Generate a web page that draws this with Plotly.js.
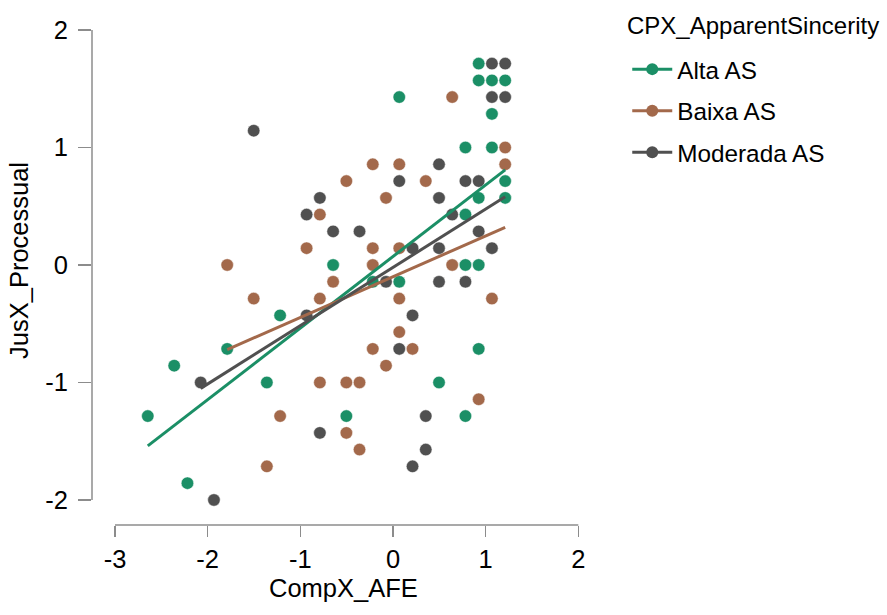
<!DOCTYPE html>
<html>
<head>
<meta charset="utf-8">
<script src="https://cdn.plot.ly/plotly-3.0.1.min.js"></script>
<style>html,body{margin:0;padding:0;background:#fff;}#chart{width:887px;height:615px;}</style>
</head>
<body>
<div id="chart"></div>
<script>
// Group names and colours
var groups = ["Alta AS", "Baixa AS", "Moderada AS"];
var colors = ["#1b8f66", "#a3694b", "#505050"];

// Alta AS points
var altaX = [0.925, 0.925, 1.068, 1.211, 0.068, 1.068, 0.782, 1.068, 1.211, 0.925, 1.211, 0.782, -0.646, 0.782, 0.925, -0.218, 0.068, 0.925, -1.218, -1.789, -2.361, -1.361, 0.497, -2.646, -0.503, 0.782, -2.218];
var altaY = [1.714, 1.571, 1.571, 1.571, 1.429, 1.286, 1.0, 1.0, 0.714, 0.571, 0.571, 0.429, 0, 0, 0, -0.143, -0.143, -0.714, -0.429, -0.714, -0.857, -1.0, -1.0, -1.286, -1.286, -1.286, -1.857];

// Baixa AS points
var baixaX = [0.639, 1.211, -0.218, 0.068, 1.211, -0.503, 0.354, -0.075, -0.789, -0.932, -0.218, 0.068, -1.789, -0.218, 0.639, -0.646, -1.503, -0.789, 0.068, 1.068, 0.068, -0.218, 0.211, -0.075, -0.789, -0.503, -0.361, 0.925, -1.218, -0.503, -0.361, -1.361];
var baixaY = [1.429, 1.0, 0.857, 0.857, 0.857, 0.714, 0.714, 0.571, 0.429, 0.143, 0.143, 0.143, 0, 0, 0, -0.143, -0.286, -0.286, -0.286, -0.286, -0.571, -0.714, -0.714, -0.857, -1.0, -1.0, -1.0, -1.143, -1.286, -1.429, -1.571, -1.714];

// Moderada AS points
var moderadaX = [-1.503, -0.789, -0.932, -0.646, 1.068, 1.211, 1.068, 1.211, 0.497, 0.068, 0.782, 0.925, 0.497, 0.639, -0.361, 0.925, 0.211, 0.497, 1.068, -0.075, 0.497, 0.782, -0.932, 0.211, 0.068, -2.075, -0.789, 0.354, 0.354, 0.211, -1.932];
var moderadaY = [1.143, 0.571, 0.429, 0.286, 1.714, 1.714, 1.429, 1.429, 0.857, 0.714, 0.714, 0.714, 0.571, 0.429, 0.286, 0.286, 0.143, 0.143, 0.143, -0.143, -0.143, -0.143, -0.429, -0.429, -0.714, -1.0, -1.429, -1.286, -1.571, -1.714, -2.0];

// Fitted line endpoints
var altaFitX = [-2.646, 1.211], altaFitY = [-1.54, 0.81];
var baixaFitX = [-1.789, 1.211], baixaFitY = [-0.72, 0.32];
var moderadaFitX = [-2.075, 1.211], moderadaFitY = [-1.05, 0.58];

// Axis ticks
var xTicks = [-3, -2, -1, 0, 1, 2];
var yTicks = [-2, -1, 0, 1, 2];

var xTitle = "CompX_AFE";
var yTitle = "JusX_Processual";
var legendTitle = "CPX_ApparentSincerity";

var ptsX = [altaX, baixaX, moderadaX];
var ptsY = [altaY, baixaY, moderadaY];
var fitX = [altaFitX, baixaFitX, moderadaFitX];
var fitY = [altaFitY, baixaFitY, moderadaFitY];

var FONT = "Liberation Sans, Arial, Helvetica, sans-serif";
var FS = 25.5;
var LFS = 24.3;
var traces = [];
for (var i = 0; i < 3; i++) {
  traces.push({
    type: "scatter", mode: "markers", x: ptsX[i], y: ptsY[i],
    marker: {color: colors[i], size: 12.5, line: {color: "white", width: 0.5}},
    showlegend: false, legendgroup: groups[i], cliponaxis: false, hoverinfo: "x+y"
  });
}
for (var i = 0; i < 3; i++) {
  traces.push({
    type: "scatter", mode: "lines", x: fitX[i], y: fitY[i],
    line: {color: colors[i], width: 3},
    showlegend: false, legendgroup: groups[i], cliponaxis: false, hoverinfo: "skip"
  });
}
for (var i = 0; i < 3; i++) {
  traces.push({
    type: "scatter", mode: "lines+markers", x: [null], y: [null], name: groups[i],
    line: {color: colors[i], width: 3},
    marker: {color: colors[i], size: 12},
    legendgroup: groups[i], showlegend: true
  });
}

var axisColor = "#8c8c8c";
var layout = {
  width: 887, height: 615,
  margin: {l: 92, r: 291, t: 30, b: 90, autoexpand: false},
  paper_bgcolor: "white", plot_bgcolor: "white",
  font: {family: FONT, size: FS, color: "#000"},
  showlegend: true,
  xaxis: {
    range: [-3.248, 2.191], showgrid: false, zeroline: false, showline: false,
    tickmode: "array", tickvals: xTicks, ticktext: xTicks.map(String),
    ticks: "outside", ticklen: 11, tickwidth: 1.5, tickcolor: axisColor,
    tickfont: {family: FONT, size: FS, color: "#000"}, fixedrange: true
  },
  yaxis: {
    range: [-2.213, 2], showgrid: false, zeroline: false, showline: false,
    tickmode: "array", tickvals: yTicks, ticktext: yTicks.map(String),
    ticks: "outside", ticklen: 13, tickwidth: 1.5, tickcolor: axisColor,
    ticklabelstandoff: 5,
    tickfont: {family: FONT, size: FS, color: "#000"}, fixedrange: true
  },
  shapes: [
    {type: "line", xref: "x", yref: "paper", x0: xTicks[0], x1: xTicks[xTicks.length-1], y0: 0, y1: 0,
     line: {color: axisColor, width: 1.5}},
    {type: "line", xref: "paper", yref: "y", x0: 0, x1: 0, y0: yTicks[0], y1: yTicks[yTicks.length-1],
     line: {color: axisColor, width: 1.5}}
  ],
  annotations: [
    {text: xTitle, xref: "x", yref: "paper", x: -0.536, y: 0, xanchor: "center", yanchor: "middle",
     yshift: -63, showarrow: false, font: {family: FONT, size: FS, color: "#000"}},
    {text: yTitle, xref: "paper", yref: "y", x: 0, y: 0, xanchor: "center", yanchor: "middle",
     xshift: -73, yshift: 4, textangle: -90, showarrow: false, font: {family: FONT, size: FS, color: "#000"}},
    {text: legendTitle, xref: "paper", yref: "paper", x: 1.058, y: 1.0085, xanchor: "left", yanchor: "middle",
     showarrow: false, font: {family: FONT, size: 24, color: "#000"}}
  ],
  legend: {
    x: 1.062, y: 0.966, xanchor: "left", yanchor: "top",
    font: {family: FONT, size: LFS, color: "#000"},
    bgcolor: "rgba(0,0,0,0)", tracegroupgap: 7, itemwidth: 40
  }
};

Plotly.newPlot("chart", traces, layout, {displayModeBar: false, staticPlot: true});
</script>
</body>
</html>
